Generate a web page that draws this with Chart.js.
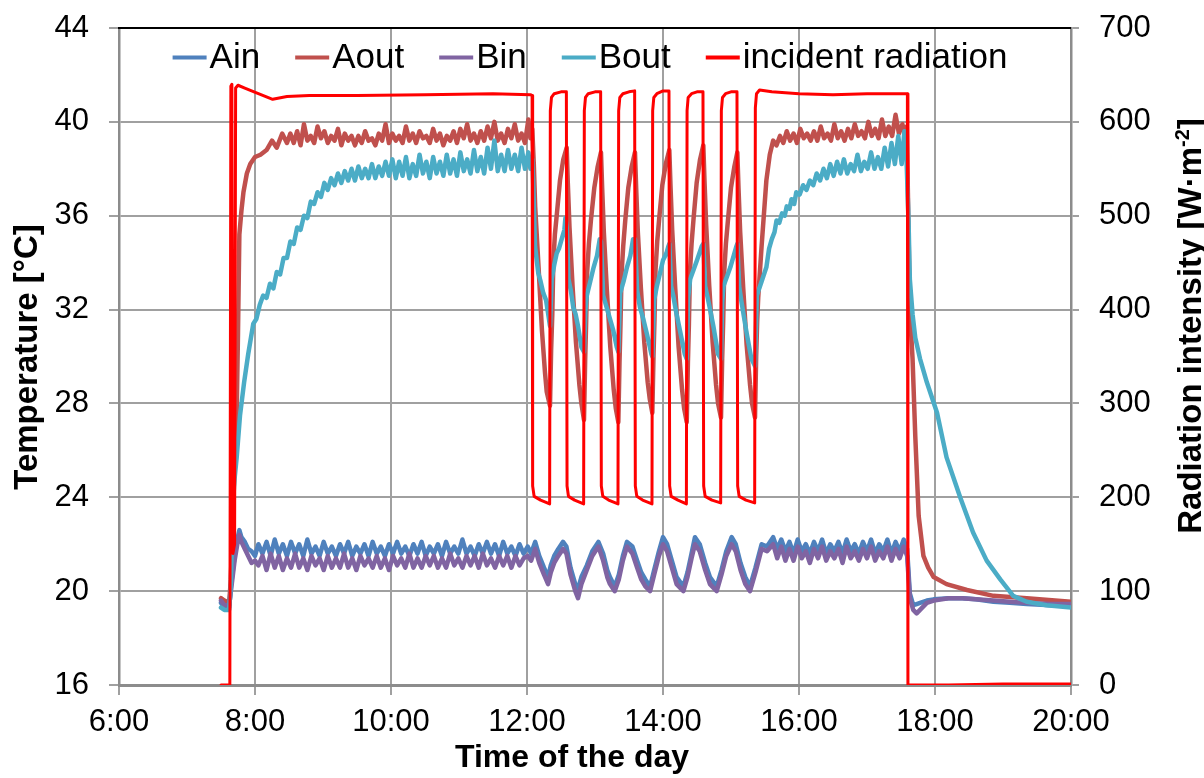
<!DOCTYPE html>
<html>
<head>
<meta charset="utf-8">
<script src="https://cdn.jsdelivr.net/npm/chart.js@4.4.0/dist/chart.umd.min.js"></script>
<style>
html,body{margin:0;padding:0;background:#ffffff;}
canvas{display:block;}
</style>
</head>
<body>
<canvas id="c" width="1204" height="778"></canvas>
<script>
// ---------- labels ----------
const seriesNames = ['Ain', 'Aout', 'Bin', 'Bout', 'incident radiation'];
const xTickValues = [6, 8, 10, 12, 14, 16, 18, 20];
const xTickLabels = ['6:00', '8:00', '10:00', '12:00', '14:00', '16:00', '18:00', '20:00'];
const tempTicks = [16, 20, 24, 28, 32, 36, 40, 44];
const radTicks = [0, 100, 200, 300, 400, 500, 600, 700];
const xTitle = 'Time of the day';
const leftTitle = 'Temperature [°C]';
const rightTitleMain = 'Radiation intensity [W·m';
const rightTitleSup = '-2';
const rightTitleEnd = ']';

// ---------- inlet temperatures (Ain, Bin share the time base, hours) ----------
const inletTime = [
 7.50,7.55,7.62,7.65,7.70,7.74,7.77,7.80,7.85,7.90,7.95,8.00,
 8.05,8.11,8.17,8.23,8.29,8.35,8.41,8.47,8.53,8.59,8.65,
 8.71,8.77,8.83,8.89,8.95,9.01,9.07,9.13,9.19,9.25,9.31,
 9.37,9.43,9.49,9.55,9.61,9.67,9.73,9.79,9.85,9.91,9.97,
 10.03,10.09,10.15,10.21,10.27,10.33,10.39,10.45,10.51,10.57,10.63,
 10.69,10.75,10.81,10.87,10.93,10.99,11.05,11.11,11.17,11.23,11.29,
 11.35,11.41,11.47,11.53,11.59,11.65,11.71,11.77,11.83,11.89,11.95,
 12.01,12.06,12.12,12.18,12.25,12.31,12.35,12.40,12.46,12.53,
 12.58,12.64,12.71,12.75,12.80,12.88,12.96,13.05,13.12,13.18,
 13.22,13.29,13.35,13.41,13.47,13.55,13.62,13.68,13.74,13.81,
 13.87,13.94,14.00,14.06,14.13,14.20,14.30,14.36,14.42,14.47,
 14.54,14.62,14.69,14.79,14.86,14.93,15.01,15.07,15.14,15.21,
 15.28,15.36,15.45,15.53,15.62,
 15.68,15.74,15.80,15.86,15.92,15.98,16.04,16.10,16.16,16.22,16.28,
 16.34,16.40,16.46,16.52,16.58,16.64,16.70,16.76,16.82,16.88,16.94,
 17.00,17.06,17.12,17.18,17.24,17.30,17.36,17.42,17.48,17.54,17.59,
 17.63,17.68,17.73,17.78,17.88,17.98,18.20,18.40,18.60,18.86,19.10,19.35,19.70,20.00
];
const ainTemp = [
 19.5,19.3,19.3,20.3,21.5,22.2,22.6,22.3,22.1,21.8,21.7,21.5,
 22.0,21.6,22.1,21.5,22.2,21.6,22.0,21.5,22.1,21.6,22.0,
 21.5,22.2,21.6,21.9,21.5,22.1,21.6,21.9,21.5,22.0,21.6,
 22.1,21.5,21.9,21.6,22.0,21.5,22.1,21.6,21.9,21.5,22.0,
 21.6,22.1,21.6,21.9,21.5,22.0,21.6,22.1,21.5,21.9,21.6,
 22.0,21.5,22.1,21.6,21.9,21.6,22.2,21.6,21.9,21.5,22.0,
 21.6,22.1,21.6,22.0,21.5,22.1,21.6,21.9,21.5,22.0,21.6,
 21.9,21.6,22.1,21.5,21.0,20.6,21.1,21.5,21.8,22.1,
 21.9,21.0,20.3,20.1,20.6,21.1,21.7,22.1,21.6,20.9,
 20.6,20.2,20.7,21.5,22.1,21.9,21.3,20.8,20.5,20.2,
 20.9,21.7,22.3,22.0,21.3,20.6,20.2,20.8,21.6,22.3,
 22.0,21.2,20.6,20.2,20.9,21.7,22.3,22.0,21.2,20.6,
 20.2,21.0,22.0,21.9,22.3,
 21.8,22.2,21.7,22.1,21.6,22.2,21.7,22.0,21.6,22.1,21.7,
 22.2,21.6,22.0,21.7,22.1,21.6,22.2,21.7,22.0,21.6,22.1,
 21.7,22.2,21.6,22.0,21.7,22.2,21.6,22.1,21.7,22.2,21.8,
 19.9,19.4,19.45,19.5,19.6,19.65,19.7,19.7,19.65,19.55,19.5,19.45,19.4,19.4
];
const binTemp = [
 19.6,19.4,19.4,20.1,21.3,22.0,22.4,22.1,21.8,21.5,21.2,21.3,
 21.1,21.5,20.9,21.6,21.0,21.5,20.9,21.4,21.0,21.6,21.0,
 21.4,20.9,21.5,21.1,21.4,20.9,21.5,21.0,21.4,21.0,21.6,
 21.0,21.4,20.9,21.5,21.1,21.4,21.0,21.5,21.0,21.4,20.9,
 21.5,21.1,21.4,21.0,21.6,21.0,21.4,21.0,21.5,21.1,21.5,
 21.0,21.4,21.0,21.6,21.1,21.4,21.0,21.5,21.1,21.5,21.0,
 21.6,21.1,21.4,21.0,21.5,21.1,21.5,21.0,21.5,21.1,21.4,
 21.5,21.3,21.8,21.2,20.7,20.3,20.8,21.2,21.5,21.8,
 21.6,20.7,20.0,19.7,20.3,20.9,21.5,21.9,21.3,20.6,
 20.3,20.0,20.5,21.3,21.9,21.6,21.0,20.5,20.2,20.0,
 20.7,21.5,22.0,21.7,21.0,20.3,20.0,20.6,21.4,22.0,
 21.7,20.9,20.3,20.0,20.7,21.5,22.0,21.7,20.9,20.3,
 20.0,20.8,21.8,21.7,22.0,
 21.4,21.9,21.3,21.8,21.3,21.9,21.4,21.7,21.2,21.8,21.4,
 21.9,21.3,21.7,21.4,21.8,21.2,21.9,21.4,21.7,21.3,21.8,
 21.4,21.9,21.3,21.7,21.4,21.9,21.3,21.8,21.4,21.9,21.5,
 19.7,19.2,19.05,19.2,19.5,19.6,19.7,19.7,19.65,19.6,19.55,19.5,19.45,19.45
];

// ---------- Aout ----------
const aoutTime = [
 7.50,7.55,7.62,7.645,7.67,7.70,7.73,7.75,7.77,7.80,
 7.83,7.88,7.93,8.00,8.08,8.17,8.25,8.32,8.40,8.47,
 8.52,8.57,8.62,8.67,8.72,8.77,8.82,8.87,8.92,8.97,
 9.02,9.07,9.12,9.17,9.22,9.27,9.32,9.37,9.42,9.47,
 9.52,9.57,9.62,9.67,9.72,9.77,9.82,9.87,9.92,9.97,
 10.02,10.07,10.12,10.17,10.22,10.27,10.32,10.37,10.42,10.47,
 10.52,10.57,10.62,10.67,10.72,10.77,10.82,10.87,10.92,10.97,
 11.02,11.07,11.12,11.17,11.22,11.27,11.32,11.37,11.42,11.47,
 11.52,11.57,11.62,11.67,11.72,11.77,11.82,11.87,11.92,11.97,
 12.02,12.05,12.078,12.10,12.12,12.17,12.22,12.265,12.29,12.338,
 12.355,12.372,12.387,12.41,12.44,12.485,12.534,12.584,
 12.60,12.625,12.67,12.72,12.77,12.80,12.838,
 12.855,12.87,12.885,12.91,12.94,12.99,13.04,13.088,
 13.105,13.13,13.175,13.225,13.275,13.305,13.343,
 13.36,13.375,13.39,13.415,13.445,13.49,13.54,13.588,
 13.605,13.63,13.675,13.725,13.775,13.805,13.843,
 13.86,13.875,13.89,13.915,13.945,13.99,14.04,14.093,
 14.11,14.135,14.18,14.23,14.28,14.31,14.349,
 14.366,14.381,14.396,14.42,14.45,14.495,14.545,14.593,
 14.61,14.635,14.68,14.73,14.78,14.81,14.853,
 14.87,14.885,14.90,14.925,14.955,15.00,15.05,15.093,
 15.11,15.135,15.18,15.23,15.28,15.31,15.353,
 15.37,15.385,15.40,15.45,15.52,15.57,15.62,15.67,
 15.72,15.77,15.82,15.87,15.92,15.97,16.02,16.07,16.12,16.17,
 16.22,16.27,16.32,16.37,16.42,16.47,16.52,16.57,16.62,16.67,
 16.72,16.77,16.82,16.87,16.92,16.97,17.02,17.07,17.12,17.17,
 17.22,17.27,17.32,17.37,17.42,17.47,17.52,17.56,17.585,
 17.61,17.63,17.67,17.71,17.76,17.83,17.90,17.98,18.17,18.47,18.86,19.35,20.00
];
const aoutTemp = [
 19.7,19.6,19.5,20.5,23.0,25.5,27.5,31.0,35.2,36.2,
 37.0,37.8,38.2,38.5,38.6,38.8,39.2,38.9,39.5,39.1,
 39.5,39.1,39.6,39.0,39.9,39.2,39.4,39.1,39.8,39.3,
 39.6,39.1,39.4,39.2,39.7,39.0,39.5,39.2,39.4,39.0,
 39.4,39.1,39.6,39.2,39.3,39.0,39.5,39.2,39.9,39.1,
 39.5,39.2,39.4,39.1,39.8,39.2,39.5,39.1,39.6,39.3,
 39.4,39.1,39.7,39.2,39.5,39.0,39.4,39.2,39.6,39.1,
 39.7,39.3,39.9,39.2,39.5,39.1,39.6,39.2,39.8,39.3,
 40.0,39.2,39.5,39.1,39.7,39.3,39.9,39.2,39.5,39.1,
 40.1,39.3,39.7,38.2,36.4,33.8,31.1,29.3,28.5,27.9,
 30.3,31.8,34.0,35.2,36.1,37.5,38.4,38.9,
 37.4,35.5,33.0,30.6,28.8,28.0,27.3,
 29.8,31.5,33.6,34.8,35.8,37.2,38.1,38.7,
 37.2,35.3,32.8,30.4,28.6,27.8,27.2,
 29.7,31.4,33.5,34.7,35.8,37.2,38.1,38.7,
 37.2,35.3,32.9,30.6,28.9,28.2,27.6,
 30.0,31.6,33.7,34.9,35.9,37.3,38.2,38.8,
 37.3,35.4,32.9,30.4,28.6,27.8,27.2,
 29.7,31.4,33.6,34.8,35.9,37.4,38.4,39.0,
 37.5,35.6,33.0,30.6,28.8,28.0,27.4,
 29.9,31.5,33.6,34.8,35.8,37.2,38.1,38.7,
 37.2,35.3,32.9,30.5,28.8,28.0,27.4,
 30.0,31.5,32.5,34.7,37.5,38.6,39.2,39.0,
 39.4,39.1,39.6,39.2,39.5,39.1,39.7,39.3,39.5,39.2,
 39.6,39.2,39.8,39.3,39.5,39.2,39.9,39.3,39.6,39.2,
 39.7,39.3,39.9,39.4,39.6,39.3,40.0,39.4,39.7,39.3,
 40.1,39.4,39.8,39.4,40.3,39.5,39.9,39.5,39.8,
 35.5,32.0,29.9,26.6,23.2,21.5,21.0,20.6,20.3,20.05,19.8,19.7,19.55
];

// ---------- Bout ----------
const boutTime = [
 7.50,7.55,7.62,7.645,7.672,7.70,7.731,7.78,7.84,7.90,
 7.975,8.02,8.07,8.12,8.17,8.22,8.27,8.32,8.37,8.42,
 8.47,8.52,8.57,8.62,8.67,8.72,8.77,8.82,8.87,8.92,
 8.97,9.02,9.07,9.12,9.17,9.22,9.27,9.32,9.37,9.42,
 9.47,9.52,9.57,9.62,9.67,9.72,9.77,9.82,9.87,9.92,
 9.97,10.02,10.07,10.12,10.17,10.22,10.27,10.32,10.37,10.42,
 10.47,10.52,10.57,10.62,10.67,10.72,10.77,10.82,10.87,10.92,
 10.97,11.02,11.07,11.12,11.17,11.22,11.27,11.32,11.37,11.42,
 11.47,11.52,11.57,11.62,11.67,11.72,11.77,11.82,11.87,11.92,
 11.97,12.02,12.05,12.078,12.09,12.118,12.166,12.20,12.24,12.28,
 12.31,12.338,12.363,12.40,12.437,12.47,12.51,12.55,12.565,12.584,
 12.61,12.645,12.68,12.715,12.75,12.80,12.838,
 12.86,12.88,12.93,12.98,13.03,13.07,13.088,
 13.12,13.17,13.22,13.27,13.32,13.343,
 13.37,13.42,13.47,13.52,13.56,13.588,
 13.62,13.66,13.71,13.76,13.83,13.843,
 13.87,13.91,13.96,14.00,14.05,14.08,14.093,
 14.12,14.15,14.20,14.25,14.32,14.349,
 14.37,14.40,14.45,14.50,14.57,14.593,
 14.62,14.65,14.70,14.74,14.81,14.853,
 14.87,14.89,14.94,14.99,15.04,15.08,15.093,
 15.12,15.15,15.19,15.23,15.30,15.353,
 15.38,15.45,15.52,15.56,15.60,15.64,15.67,15.71,15.75,15.79,
 15.82,15.86,15.89,15.93,15.96,16.01,16.06,16.11,16.16,16.21,
 16.26,16.31,16.36,16.41,16.46,16.51,16.56,16.61,16.66,16.71,
 16.76,16.81,16.86,16.91,16.96,17.01,17.06,17.11,17.16,17.21,
 17.26,17.31,17.36,17.41,17.46,17.51,17.55,17.58,
 17.61,17.63,17.67,17.71,17.78,17.88,18.03,18.17,18.37,18.56,
 18.76,18.96,19.15,19.35,19.64,20.00
];
const boutTemp = [
 19.3,19.2,19.2,20.3,23.6,24.8,25.7,27.5,28.9,30.1,
 31.4,31.6,32.2,32.6,32.5,33.1,32.9,33.6,33.5,34.2,
 34.2,34.9,34.8,35.5,35.4,36.0,35.9,36.6,36.5,37.0,
 36.8,37.4,37.1,37.6,37.3,37.8,37.4,37.9,37.5,38.0,
 37.5,38.1,37.6,38.0,37.6,38.2,37.6,38.1,37.7,38.3,
 37.7,38.4,37.6,38.3,37.7,38.5,37.6,38.2,37.7,38.6,
 37.8,38.3,37.6,38.5,37.8,38.3,37.7,38.6,37.8,38.4,
 37.7,38.7,37.9,38.4,37.8,38.8,37.9,38.5,37.8,38.9,
 38.0,39.2,37.9,38.6,37.9,38.8,38.0,38.6,37.9,38.9,
 38.0,38.7,38.0,38.4,37.5,34.7,33.55,33.2,32.7,32.4,
 31.85,31.3,33.3,33.9,34.4,34.6,35.0,35.4,35.9,35.5,
 33.3,32.8,32.1,31.8,31.3,30.4,30.2,
 32.0,32.6,33.2,33.8,34.3,35.0,34.9,
 32.6,32.1,31.6,31.1,30.4,30.2,
 32.7,33.2,33.8,34.3,35.0,35.0,
 32.8,32.1,31.6,31.0,30.1,30.0,
 32.4,33.0,33.6,34.1,34.4,34.7,34.8,
 33.0,32.6,31.8,31.1,30.1,29.9,
 32.5,33.3,33.7,34.1,34.7,34.8,
 33.0,32.6,31.9,31.3,30.1,29.9,
 32.3,33.0,33.4,33.8,34.3,34.7,34.8,
 33.0,32.4,31.7,31.0,29.9,29.6,
 32.6,33.2,33.8,34.6,35.0,35.3,35.8,35.7,36.1,36.0,
 36.4,36.3,36.7,36.5,37.0,36.9,37.3,37.1,37.5,37.3,
 37.8,37.5,38.0,37.6,38.2,37.7,38.3,37.8,38.4,37.8,
 38.2,37.9,38.6,37.9,38.3,38.0,38.7,38.0,38.5,38.0,
 38.9,38.1,39.1,38.2,39.4,38.2,39.6,38.5,
 35.9,33.3,31.8,30.8,29.9,28.9,27.6,25.7,24.0,22.5,
 21.3,20.5,19.8,19.55,19.4,19.3
];

// ---------- incident radiation (W/m2) ----------
const radTime = [
 7.50,7.63,7.645,7.66,7.675,7.70,7.715,7.75,7.85,8.05,
 8.26,8.47,8.80,9.50,10.50,11.50,12.05,12.075,
 12.083,12.105,12.20,12.333,12.343,12.36,12.40,12.50,12.579,
 12.589,12.61,12.70,12.833,12.843,12.86,12.90,13.00,13.083,
 13.093,13.115,13.20,13.338,13.348,13.365,13.41,13.50,13.583,
 13.593,13.615,13.70,13.838,13.848,13.865,13.91,14.00,14.088,
 14.098,14.12,14.22,14.344,14.354,14.37,14.42,14.50,14.588,
 14.598,14.62,14.72,14.848,14.858,14.875,14.92,15.00,15.088,
 15.098,15.12,15.22,15.348,15.358,15.375,15.42,15.60,16.00,
 16.50,17.00,17.50,17.594,17.602,18.20,19.00,20.00
];
const radValue = [
 0,0,638,640,140,150,636,639,636,630,
 624,627,628,628,629,630,629,628,
 212,201,197,193,612,626,630,632,632,
 212,201,197,193,612,626,630,632,632,
 212,201,197,193,612,626,630,632,633,
 212,201,197,193,612,626,630,633,633,
 212,201,197,193,612,626,630,632,632,
 212,201,197,194,612,626,630,632,632,
 212,201,197,194,615,630,634,632,630,
 629,630,630,630,0,0,1,1
];

const seriesColors = ['#4F81BD', '#C0504D', '#8064A2', '#4BACC6', '#FF0000'];
const FONT = '"Liberation Sans", Arial, Helvetica, sans-serif';

function toPoints(ts, vs) {
  const n = Math.min(ts.length, vs.length);
  const out = [];
  for (let i = 0; i < n; i++) out.push({x: ts[i], y: vs[i]});
  return out;
}

const extras = {
  id: 'extras',
  afterDraw(chart) {
    const ctx = chart.ctx;
    const a = chart.chartArea;
    ctx.save();
    // top frame line
    ctx.strokeStyle = '#000000';
    ctx.lineWidth = 2;
    ctx.beginPath();
    ctx.moveTo(a.left - 1, a.top);
    ctx.lineTo(a.right, a.top);
    ctx.stroke();

    // legend inside plot
    ctx.font = '35px ' + FONT;
    ctx.textAlign = 'left';
    ctx.textBaseline = 'alphabetic';
    const items = chart.data.datasets.map(d => ({label: d.label, color: d.borderColor, w: ctx.measureText(d.label).width}));
    const lineLen = 34, gapText = 3, gapItem = 35;
    let total = 0;
    items.forEach((it, i) => { total += lineLen + gapText + it.w + (i ? gapItem : 0); });
    let x = 590 - total / 2;
    const lineY = 57.5, baseY = 68;
    items.forEach(it => {
      ctx.strokeStyle = it.color;
      ctx.lineWidth = 4;
      ctx.lineCap = 'butt';
      ctx.beginPath();
      ctx.moveTo(x, lineY);
      ctx.lineTo(x + lineLen, lineY);
      ctx.stroke();
      x += lineLen + gapText;
      ctx.fillStyle = '#000000';
      ctx.fillText(it.label, x, baseY);
      x += it.w + gapItem;
    });

    // axis titles
    ctx.fillStyle = '#000000';
    ctx.textAlign = 'center';
    ctx.font = 'bold 32px ' + FONT;
    ctx.fillText(xTitle, 572, 767);

    ctx.save();
    ctx.font = 'bold 33px ' + FONT;
    ctx.translate(37, 357);
    ctx.rotate(-Math.PI / 2);
    ctx.fillText(leftTitle, 0, 0);
    ctx.restore();

    ctx.save();
    ctx.translate(1201, 326);
    ctx.rotate(-Math.PI / 2);
    const fMain = 'bold 33px ' + FONT, fSup = 'bold 20px ' + FONT;
    ctx.font = fMain;
    const w1 = ctx.measureText(rightTitleMain).width;
    const w3 = ctx.measureText(rightTitleEnd).width;
    ctx.font = fSup;
    const w2 = ctx.measureText(rightTitleSup).width;
    let tx = -(w1 + w2 + w3) / 2;
    ctx.textAlign = 'left';
    ctx.font = fMain;
    ctx.fillText(rightTitleMain, tx, 0);
    tx += w1;
    ctx.font = fSup;
    ctx.fillText(rightTitleSup, tx, -12);
    tx += w2;
    ctx.font = fMain;
    ctx.fillText(rightTitleEnd, tx, 0);
    ctx.restore();

    ctx.restore();
  }
};

const gridGray = '#a0a0a0';
const axisGray = '#8c8c8c';
const tickFont = {family: FONT, size: 31};

new Chart(document.getElementById('c'), {
  type: 'line',
  data: {
    datasets: [
      {label: seriesNames[0], data: toPoints(inletTime, ainTemp), borderColor: seriesColors[0], backgroundColor: seriesColors[0], borderWidth: 4.5, yAxisID: 'y', order: 4},
      {label: seriesNames[1], data: toPoints(aoutTime, aoutTemp), borderColor: seriesColors[1], backgroundColor: seriesColors[1], borderWidth: 4.5, yAxisID: 'y', order: 3},
      {label: seriesNames[2], data: toPoints(inletTime, binTemp), borderColor: seriesColors[2], backgroundColor: seriesColors[2], borderWidth: 4.5, yAxisID: 'y', order: 2},
      {label: seriesNames[3], data: toPoints(boutTime, boutTemp), borderColor: seriesColors[3], backgroundColor: seriesColors[3], borderWidth: 4.5, yAxisID: 'y', order: 1},
      {label: seriesNames[4], data: toPoints(radTime, radValue), borderColor: seriesColors[4], backgroundColor: seriesColors[4], borderWidth: 3, yAxisID: 'y2', order: 0}
    ]
  },
  options: {
    responsive: false,
    animation: false,
    devicePixelRatio: 1,
    elements: {
      point: {radius: 0, hoverRadius: 0},
      line: {tension: 0, fill: false, borderJoinStyle: 'round', borderCapStyle: 'round'}
    },
    layout: {padding: {top: 28, left: 0, right: 0, bottom: 0}},
    plugins: {legend: {display: false}, tooltip: {enabled: false}, title: {display: false}},
    scales: {
      x: {
        type: 'linear', position: 'bottom', min: 6, max: 20,
        afterBuildTicks: s => { s.ticks = xTickValues.map(v => ({value: v})); },
        ticks: {callback: (v, i) => xTickLabels[i], font: tickFont, color: '#000000', padding: 9, maxRotation: 0, autoSkip: false},
        grid: {color: gridGray, lineWidth: 2, tickLength: 10, tickColor: gridGray, drawTicks: true},
        border: {color: axisGray, width: 3},
        afterFit: s => { s.height = 93; s.paddingLeft = 0; s.paddingRight = 0; }
      },
      y: {
        type: 'linear', position: 'left', min: 16, max: 44,
        afterBuildTicks: s => { s.ticks = tempTicks.map(v => ({value: v})); },
        ticks: {font: tickFont, color: '#000000', padding: 20, autoSkip: false},
        grid: {color: gridGray, lineWidth: 2, tickLength: 10, tickColor: gridGray},
        border: {color: axisGray, width: 2.5},
        afterFit: s => { s.width = 119; s.paddingTop = 0; s.paddingBottom = 0; }
      },
      y2: {
        type: 'linear', position: 'right', min: 0, max: 700,
        afterBuildTicks: s => { s.ticks = radTicks.map(v => ({value: v})); },
        ticks: {font: tickFont, color: '#000000', padding: 20, autoSkip: false},
        grid: {drawOnChartArea: false, color: gridGray, lineWidth: 2, tickLength: 8, tickColor: gridGray},
        border: {color: axisGray, width: 2.5},
        afterFit: s => { s.width = 133; s.paddingTop = 0; s.paddingBottom = 0; }
      }
    }
  },
  plugins: [extras]
});
</script>
</body>
</html>
